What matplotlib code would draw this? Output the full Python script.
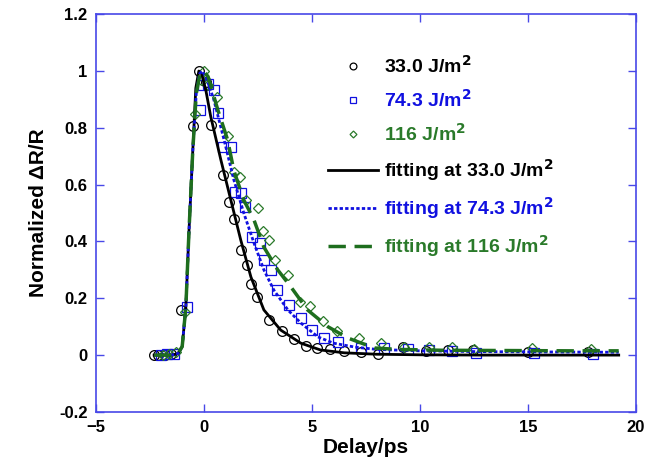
import matplotlib
matplotlib.use('Agg')
import matplotlib.pyplot as plt

plt.rcParams['font.family'] = ['Liberation Sans', 'DejaVu Sans']
plt.rcParams['font.weight'] = 'bold'

# measured points, 33.0 J/m2
x_33 = [-2.3, -2.1, -1.8, -1.5, -1.06, -0.51, -0.23, 0.09, 0.32, 0.91, 1.15, 1.40, 1.71, 1.98, 2.18,
        2.45, 3.01, 3.61, 4.16, 4.72, 5.26, 5.85, 6.5, 7.27, 8.06, 9.2, 10.3, 11.3, 12.45, 15.0, 17.8]
y_33 = [0, 0, 0, 0.005, 0.16, 0.807, 1.0, 0.96, 0.81, 0.634, 0.54, 0.48, 0.37, 0.317, 0.25,
        0.204, 0.123, 0.085, 0.056, 0.032, 0.024, 0.02, 0.015, 0.01, 0.003, 0.03, 0.015, 0.018, 0.017, 0.01, 0.01]

# measured points, 74.3 J/m2
x_74 = [-2.0, -1.7, -1.4, -0.79, -0.19, -0.05, 0.19, 0.46, 0.67, 0.89, 1.25, 1.44, 1.74, 1.90, 2.22, 2.61,
        2.78, 3.10, 3.41, 3.94, 4.49, 4.99, 5.56, 6.2, 7.27, 8.33, 9.44, 10.4, 11.5, 12.6, 15.3, 18.0]
y_74 = [0, 0.005, 0.005, 0.17, 0.863, 0.95, 0.955, 0.934, 0.853, 0.733, 0.733, 0.575, 0.57, 0.52, 0.416, 0.393,
        0.334, 0.30, 0.229, 0.176, 0.13, 0.088, 0.06, 0.046, 0.025, 0.025, 0.02, 0.018, 0.015, 0.008, 0.008, 0.003]

# measured points, 116 J/m2
x_116 = [-1.9, -1.6, -1.3, -0.85, -0.4, -0.15, 0.0, 0.2, 0.6, 1.11, 1.39, 1.67, 1.94, 2.49, 2.76,
         3.01, 3.29, 3.89, 4.44, 4.91, 5.51, 6.15, 7.2, 8.2, 9.26, 10.4, 11.5, 12.5, 15.2, 17.9]
y_116 = [0, 0.005, 0.01, 0.15, 0.85, 0.97, 1.0, 0.95, 0.91, 0.77, 0.645, 0.627, 0.546, 0.518, 0.437,
         0.405, 0.335, 0.282, 0.187, 0.173, 0.12, 0.085, 0.06, 0.042, 0.03, 0.03, 0.03, 0.02, 0.025, 0.02]

# fitted curves
fx_33 = [-2.3, -1.5, -1.2, -1.0, -0.83, -0.69, -0.51, -0.37, -0.23, -0.1, 0.1, 0.32, 0.79, 1.25, 1.71,
         2.18, 2.78, 3.56, 4.49, 5.4, 6.5, 8, 10, 13, 16, 19.2]
fy_33 = [0, 0, 0.005, 0.03, 0.17, 0.43, 0.72, 0.94, 1.0, 0.99, 0.93, 0.84, 0.687, 0.546, 0.405,
         0.275, 0.159, 0.088, 0.042, 0.018, 0.008, 0.003, 0.001, 0, 0, 0]

fx_74 = [-2.3, -1.5, -1.2, -1.0, -0.83, -0.69, -0.51, -0.35, -0.2, -0.08, 0.1, 0.46, 0.93, 1.39, 1.85,
         2.32, 2.78, 3.24, 3.89, 4.49, 5.28, 6.0, 7, 8, 10, 13, 16, 19.2]
fy_74 = [0, 0, 0.005, 0.03, 0.17, 0.43, 0.72, 0.92, 0.99, 1.0, 0.98, 0.9, 0.76, 0.617, 0.5,
         0.395, 0.30, 0.229, 0.159, 0.113, 0.064, 0.042, 0.028, 0.02, 0.015, 0.012, 0.011, 0.01]

fx_116 = [-2.3, -1.5, -1.2, -1.0, -0.83, -0.69, -0.51, -0.35, -0.2, 0.0, 0.2, 0.65, 1.1, 1.39, 1.85,
          2.32, 2.78, 3.42, 4.03, 4.8, 5.74, 6.67, 7.9, 9, 11, 14, 17, 19.2]
fy_116 = [0, 0, 0.005, 0.03, 0.17, 0.43, 0.72, 0.92, 0.98, 1.0, 0.98, 0.863, 0.758, 0.65, 0.546,
          0.476, 0.38, 0.3, 0.24, 0.159, 0.1, 0.06, 0.025, 0.02, 0.017, 0.016, 0.015, 0.015]

black = '#000000'
blue = '#1010e0'
green = '#2a7a2a'
axis_blue = '#4848e8'

fig = plt.figure(figsize=(6.47, 4.74), dpi=100)
ax = fig.add_axes([0.148, 0.131, 0.835, 0.839])

ax.plot(x_33, y_33, 'o', mfc='none', mec=black, ms=7, mew=0.9, label='33.0 J/m$^2$')
ax.plot(x_74, y_74, 's', mfc='none', mec=blue, ms=7, mew=0.9, label='74.3 J/m$^2$')
ax.plot(x_116, y_116, 'D', mfc='none', mec=green, ms=5, mew=0.9, label='116 J/m$^2$')

ax.plot(fx_33, fy_33, '-', color=black, lw=2, label='fitting at 33.0 J/m$^2$')
ax.plot(fx_74, fy_74, color=blue, lw=2, dashes=(1.2, 0.8), label='fitting at 74.3 J/m$^2$')
ax.plot(fx_116, fy_116, color='#1e6e1e', lw=2.5, dashes=(5, 2.5), label='fitting at 116 J/m$^2$')

ax.set_xlim(-5, 20)
ax.set_ylim(-0.2, 1.2)
ax.set_xticks([-5, 0, 5, 10, 15, 20])
ax.set_yticks([-0.2, 0, 0.2, 0.4, 0.6, 0.8, 1, 1.2])
ax.set_yticklabels(['-0.2', '0', '0.2', '0.4', '0.6', '0.8', '1', '1.2'])

for s in ax.spines.values():
    s.set_color(axis_blue)
    s.set_linewidth(1.2)
ax.tick_params(direction='in', length=6, width=1, color=axis_blue, top=True, right=True,
               labelsize=12, pad=6)
for lab in ax.get_xticklabels() + ax.get_yticklabels():
    lab.set_fontweight('bold')

ax.set_xlabel('Delay/ps', fontsize=15, fontweight='bold', labelpad=2)
ax.set_ylabel('Normalized ΔR/R', fontsize=15, fontweight='bold', labelpad=8)

leg = ax.legend(loc='upper left', bbox_to_anchor=(0.415, 0.917), frameon=False, fontsize=14,
                handlelength=2.6, labelspacing=0.62, handletextpad=0.3, markerscale=0.7,
                borderaxespad=0)
for txt, c in zip(leg.get_texts(), [black, blue, green, black, blue, green]):
    txt.set_color(c)
    txt.set_fontweight('bold')

fig.savefig('out.png', dpi=100)
